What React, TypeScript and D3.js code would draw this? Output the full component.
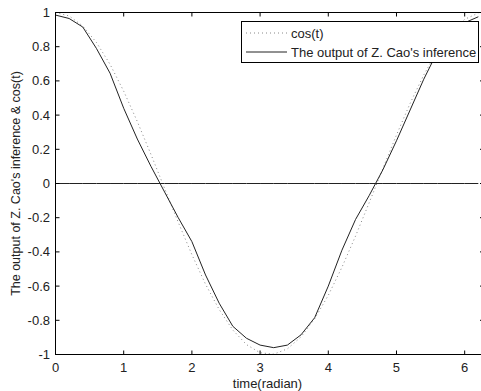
import * as d3 from "d3";

// sample times (radian)
const T = [0, 0.2, 0.4, 0.6, 0.8, 1.0, 1.2, 1.4, 1.6, 1.8, 2.0, 2.2, 2.4, 2.6, 2.8, 3.0,
  3.2, 3.4, 3.6, 3.8, 4.0, 4.2, 4.4, 4.6, 4.8, 5.0, 5.2, 5.4, 5.6, 5.8, 6.0, 6.2];
// cos(t)
const COS_T = [1, 0.98, 0.921, 0.825, 0.697, 0.54, 0.362, 0.17, -0.029, -0.227, -0.416, -0.589,
  -0.737, -0.857, -0.942, -0.99, -0.998, -0.967, -0.897, -0.791, -0.654, -0.49, -0.307, -0.112,
  0.087, 0.284, 0.469, 0.635, 0.776, 0.886, 0.96, 0.997];
// output of Z. Cao's inference (solid curve)
const CAO = [0.985, 0.965, 0.915, 0.79, 0.645, 0.44, 0.26, 0.1, -0.05, -0.2, -0.34, -0.535,
  -0.7, -0.835, -0.905, -0.945, -0.96, -0.945, -0.885, -0.785, -0.6, -0.39, -0.21, -0.07,
  0.08, 0.25, 0.43, 0.61, 0.77, 0.87, 0.94, 0.975];
const ZERO = T.map(() => 0);
const X_TICKS = [0, 1, 2, 3, 4, 5, 6];
const Y_TICKS = [-1, -0.8, -0.6, -0.4, -0.2, 0, 0.2, 0.4, 0.6, 0.8, 1];
const LEGEND = ["cos(t)", "The output of Z. Cao's inference"];

export default function App() {
  const width = 481;
  const height = 391;
  const left = 55.5;
  const right = 484;
  const top = 12.5;
  const bottom = 354.5;
  const font = "'Liberation Sans', Arial, sans-serif";
  const ink = "#222";

  const x = d3.scaleLinear().domain([0, 2 * Math.PI]).range([left, right]);
  const y = d3.scaleLinear().domain([-1, 1]).range([bottom, top]);

  const line = d3
    .line<number>()
    .x((_, i) => x(T[i]))
    .y((d) => y(d));

  const fmt = (v: number) => (v === 0 ? "0" : String(v));

  return (
    <svg
      width={width}
      height={height}
      style={{ position: "absolute", left: 0, top: 0, background: "#fff" }}
      fontFamily={font}
    >
      {/* series */}
      <path d={line(COS_T) || ""} fill="none" stroke="#888" strokeWidth={1} strokeDasharray="1,3" />
      <path d={line(CAO) || ""} fill="none" stroke={ink} strokeWidth={1} />
      <path d={line(ZERO) || ""} fill="none" stroke={ink} strokeWidth={1} />

      {/* frame */}
      <rect x={left} y={top} width={right - left} height={bottom - top} fill="none" stroke="#000" strokeWidth={1} />

      {/* x ticks */}
      {X_TICKS.map((t) => (
        <g key={"x" + t}>
          <line x1={x(t)} x2={x(t)} y1={bottom} y2={bottom - 4} stroke="#000" />
          <line x1={x(t)} x2={x(t)} y1={top} y2={top + 4} stroke="#000" />
          <text x={x(t)} y={372} fontSize={13} textAnchor="middle" fill={ink}>
            {t}
          </text>
        </g>
      ))}

      {/* y ticks */}
      {Y_TICKS.map((v) => (
        <g key={"y" + v}>
          <line x1={left} x2={left + 4} y1={y(v)} y2={y(v)} stroke="#000" />
          <line x1={right} x2={right - 4} y1={y(v)} y2={y(v)} stroke="#000" />
          <text x={50} y={y(v) + 4.5} fontSize={13} textAnchor="end" fill={ink}>
            {fmt(v)}
          </text>
        </g>
      ))}

      {/* axis labels */}
      <text x={(left + 479.5) / 2} y={388} fontSize={13} textAnchor="middle" fill={ink}>
        time(radian)
      </text>
      <text
        transform={`translate(20,${(top + bottom) / 2}) rotate(-90)`}
        fontSize={12.5}
        textAnchor="middle"
        fill={ink}
      >
        The output of Z. Cao's inference &amp; cos(t)
      </text>

      {/* legend */}
      <g>
        <rect x={241.5} y={21.5} width={237} height={41} fill="#fff" stroke="#000" strokeWidth={1} />
        <line x1={246} x2={287} y1={33} y2={33} stroke="#888" strokeDasharray="1,3" />
        <text x={291} y={37.5} fontSize={13} fill={ink}>
          {LEGEND[0]}
        </text>
        <line x1={246} x2={287} y1={52} y2={52} stroke={ink} />
        <text x={291} y={56.5} fontSize={13} fill={ink}>
          {LEGEND[1]}
        </text>
      </g>
    </svg>
  );
}
